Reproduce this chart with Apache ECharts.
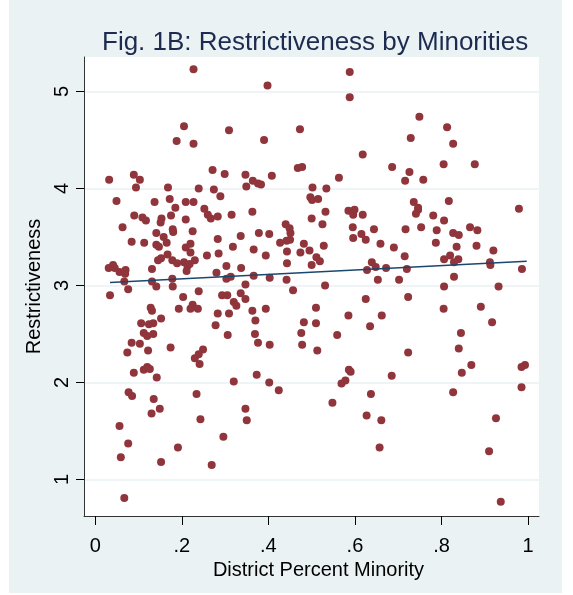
<!DOCTYPE html>
<html>
<head>
<meta charset="utf-8">
<script src="https://cdn.jsdelivr.net/npm/echarts@6/dist/echarts.min.js"></script>
<style>
  html, body { margin: 0; padding: 0; background: #ffffff; }
  #chart { width: 573px; height: 595px; }
</style>
</head>
<body>
<div id="chart"></div>
<script>
// district share of minority pupils (x) and restrictiveness score (y)
const minorityShare = [
  .227,.398,.205,.188,.227,.309,.390,.473,.032,.089,.103,.094,.049,.137,.168,.172,.185,.209,.227,.239,.252,.271,.274,.289,.299,.347,.349,.364,.376,.383,.408,.468,.478,.502,.497,.501,
  .588,.588,.749,.813,.729,.827,.618,.686,.726,.716,.758,.805,.877,.563,.534,.515,.736,.746,.817,.979,
  .090,.109,.117,.153,.151,.175,.209,.260,.267,.283,.315,.363,.500,.063,.084,.113,.141,.158,.165,.141,.147,.179,.180,.225,.209,.220,.220,.167,.145,.152,.131,.178,.189,.205,.213,.218,.211,.230,.258,.283,.285,.336,.318,.366,.378,.402,.394,.440,.449,.451,.450,.442,.427,.443,.443,.482,.474,.495,.500,
  .031,.041,.045,.056,.070,.069,.067,.076,.034,.131,.141,.178,.179,.239,.203,.280,.303,.337,.303,.313,.366,.347,.403,.442,.457,.293,.305,.336,.347,.320,.326,.225,.220,.237,.193,.128,.131,.152,.106,.124,.134,.112,.120,.134,.084,.103,.074,.122,.174,.283,.309,.278,.306,.363,.394,.370,.369,.376,.403,.482,.476,.478,.230,.239,.249,.241,
  .532,.525,.585,.599,.596,.618,.595,.596,.615,.625,.644,.659,.690,.717,.741,.746,.753,.781,.806,.789,.787,.827,.840,.835,.866,.883,.881,.920,.511,.519,.528,.639,.628,.648,.672,.653,.702,.715,.720,.806,.820,.829,.839,.829,.806,.912,.913,.986,.932,
  .531,.510,.510,.513,.625,.585,.635,.662,.559,.723,.723,.805,.891,.917,.845,.840,.869,
  .089,.112,.120,.126,.142,.077,.085,.135,.149,.130,.056,.076,.059,.152,.191,.067,.234,.243,.269,.296,.320,.373,.402,.424,.347,.350,
  .586,.590,.569,.578,.548,.685,.637,.627,.661,.657,.827,.847,.926,.910,.937,.985,.993,.985
];
const restrictiveness = [
  5.23,5.06,4.64,4.49,4.46,4.60,4.50,4.61,4.09,4.14,4.09,4.01,3.87,3.86,4.01,3.89,3.80,3.86,3.86,4.00,3.79,4.19,3.99,3.92,4.15,4.14,4.02,4.08,4.05,4.04,4.13,4.21,4.22,4.01,3.91,3.88,
  5.20,4.94,4.74,4.63,4.52,4.46,4.35,4.22,4.17,4.08,4.09,4.25,4.25,4.11,4.00,3.89,3.86,3.80,3.87,3.79,
  3.72,3.70,3.67,3.69,3.65,3.72,3.68,3.73,3.69,3.71,3.73,3.76,3.69,3.60,3.45,3.44,3.54,3.50,3.44,3.42,3.40,3.58,3.55,3.56,3.39,3.43,3.34,3.32,3.26,3.28,3.17,3.26,3.23,3.24,3.20,3.22,3.15,3.26,3.31,3.48,3.33,3.51,3.40,3.37,3.54,3.53,3.31,3.63,3.59,3.54,3.47,3.46,3.44,3.35,3.23,3.43,3.34,3.36,3.21,
  3.18,3.21,3.18,3.14,3.16,3.12,3.04,2.96,2.90,3.04,2.99,3.07,2.99,2.94,2.88,3.13,3.20,3.18,3.07,3.09,3.10,3.01,3.08,3.06,2.95,2.90,2.90,2.92,2.86,2.83,2.79,2.80,2.76,2.76,2.76,2.77,2.74,2.66,2.61,2.60,2.61,2.51,2.48,2.50,2.41,2.40,2.31,2.33,2.36,2.71,2.71,2.59,2.49,2.74,2.76,2.64,2.50,2.41,2.39,2.62,2.51,2.39,2.25,2.29,2.34,2.19,
  3.76,3.63,3.77,3.78,3.73,3.73,3.60,3.49,3.53,3.47,3.58,3.43,3.39,3.58,3.74,3.78,3.60,3.72,3.67,3.57,3.44,3.54,3.52,3.40,3.60,3.57,3.41,3.36,3.29,3.25,3.41,3.24,3.16,3.19,3.18,3.06,3.06,3.30,3.17,3.27,3.31,3.24,3.27,3.09,2.99,3.24,3.21,3.17,2.99,
  3.00,2.77,2.61,2.33,2.86,2.69,2.58,2.69,2.49,2.88,2.31,2.76,2.78,2.62,2.51,2.35,2.18,
  2.10,2.13,2.16,2.14,2.05,1.90,1.86,1.83,1.73,1.68,1.55,1.37,1.23,1.18,1.33,0.81,1.88,1.62,1.15,1.44,2.01,2.08,2.00,1.92,1.73,1.61,
  2.13,2.11,1.99,2.02,1.79,2.07,1.88,1.66,1.61,1.33,1.90,2.10,1.63,1.29,0.77,2.16,2.18,1.95
];
// linear fit drawn in the figure (end points)
const fitX = [0.034, 0.997];
const fitY = [3.03, 3.25];

const xTicks = [0, 0.2, 0.4, 0.6, 0.8, 1];
const yTicks = [1, 2, 3, 4, 5];

const points = minorityShare.map((v, i) => [v, restrictiveness[i]]);
const fitLine = fitX.map((v, i) => [v, fitY[i]]);

const chart = echarts.init(document.getElementById('chart'));
const font = "'Liberation Sans', Arial, sans-serif";

const option = {
  animation: false,
  textStyle: { fontFamily: font },
  title: {
    text: 'Fig. 1B: Restrictiveness by Minorities',
    left: 97,
    top: 25,
    textStyle: { fontFamily: font, fontSize: 26, fontWeight: 'normal', color: '#1c2b4f' }
  },
  graphic: [{
    type: 'rect',
    z: -10,
    silent: true,
    shape: { x: 9, y: 0, width: 553, height: 593 },
    style: { fill: '#eaf2f3' }
  }],
  grid: {
    left: 84, right: 34, top: 57, bottom: 79,
    show: true,
    backgroundColor: '#ffffff',
    borderWidth: 0
  },
  xAxis: {
    type: 'value',
    min: -0.0261,
    max: 1.0254,
    name: 'District Percent Minority',
    nameLocation: 'middle',
    nameGap: 37,
    nameTextStyle: { fontSize: 20, color: '#000', padding: [0, 0, 0, 14] },
    axisLine: { show: true, onZero: false, lineStyle: { color: '#333', width: 1 } },
    axisTick: { show: true, length: 9, customValues: xTicks, lineStyle: { color: '#000' } },
    axisLabel: {
      customValues: xTicks,
      margin: 20,
      fontSize: 20,
      color: '#000',
      formatter: function (v) {
        if (v === 0) return '0';
        if (v === 1) return '1';
        return String(v).replace('0.', '.');
      }
    },
    splitLine: { show: false }
  },
  yAxis: {
    type: 'value',
    min: 0.6235,
    max: 5.355,
    name: 'Restrictiveness',
    nameLocation: 'middle',
    nameGap: 30,
    nameTextStyle: { fontSize: 20, color: '#000' },
    axisLine: { show: true, onZero: false, lineStyle: { color: '#333', width: 1 } },
    axisTick: { show: true, length: 8, customValues: yTicks, lineStyle: { color: '#000' } },
    axisLabel: { customValues: yTicks, rotate: 90, margin: 12, fontSize: 20, color: '#000' },
    splitLine: { show: true, lineStyle: { color: '#eaf2f3', width: 1.5 } }
  },
  series: [
    {
      type: 'scatter',
      data: points,
      symbolSize: 8,
      itemStyle: { color: '#90353b', opacity: 1 },
      z: 2
    },
    {
      type: 'line',
      data: fitLine,
      symbol: 'none',
      lineStyle: { color: '#1a476f', width: 1.5 },
      z: 3
    }
  ]
};

chart.setOption(option);
</script>
</body>
</html>
